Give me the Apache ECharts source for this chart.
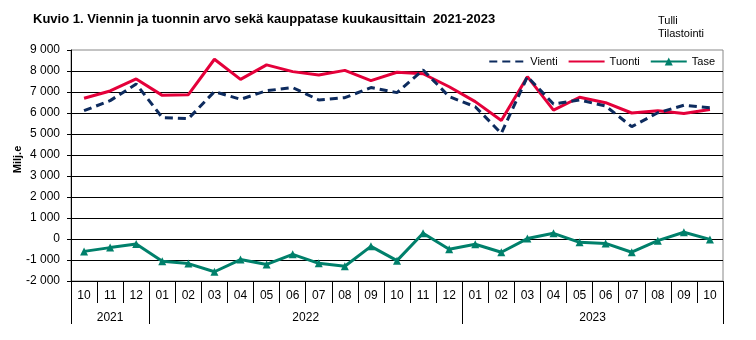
<!DOCTYPE html>
<html>
<head>
<meta charset="utf-8">
<script src="https://cdn.jsdelivr.net/npm/echarts@6/dist/echarts.min.js"></script>
<style>
html,body{margin:0;padding:0;background:#fff;}
#c{width:756px;height:340px;}
</style>
</head>
<body>
<div id="c"></div>
<script>
const months = ['10','11','12','01','02','03','04','05','06','07','08','09','10','11','12','01','02','03','04','05','06','07','08','09','10'];
const years = ['2021','2022','2023'];
const yearMonthCounts = [3, 12, 10];
const vienti = [6110,6590,7380,5780,5730,7020,6650,7060,7210,6620,6730,7210,6970,8050,6780,6300,5030,7730,6430,6620,6330,5350,6010,6370,6250];
const tuonti = [6700,7050,7620,6840,6870,8560,7600,8290,7970,7810,8030,7540,7940,7870,7250,6540,5640,7730,6140,6750,6490,6000,6110,5980,6170];
const tase = [-590,-410,-240,-1060,-1170,-1560,-980,-1210,-730,-1160,-1300,-350,-1030,270,-490,-250,-630,20,270,-160,-210,-630,-80,320,-20];

// Year axis: 2*N+1 points (half-month resolution), labels at year-span centers, ticks at year boundaries
const N = months.length;
const yearAxisData = new Array(2 * N + 1).fill('');
const yearBoundaries = new Set([0]);
let start = 0;
years.forEach((y, i) => {
  const end = start + yearMonthCounts[i];
  yearAxisData[start + end] = y;
  yearBoundaries.add(2 * end);
  start = end;
});

const font = '"Liberation Sans", Arial, sans-serif';
const chart = echarts.init(document.getElementById('c'), null, {renderer: 'canvas'});
chart.setOption({
  animation: false,
  backgroundColor: '#fff',
  textStyle: {fontFamily: font, color: '#000'},
  title: [
    {text: 'Kuvio 1. Viennin ja tuonnin arvo sekä kauppatase kuukausittain  2021-2023', left: 28, top: 8,
     textStyle: {fontFamily: font, fontSize: 13, fontWeight: 'bold', color: '#000'}},
    {text: 'Tulli\nTilastointi', left: 653, top: 9,
     textStyle: {fontFamily: font, fontSize: 11, fontWeight: 'normal', color: '#000', lineHeight: 13}}
  ],
  legend: {
    right: 36, top: 51, itemWidth: 36, itemHeight: 10, itemGap: 10,
    textStyle: {fontFamily: font, fontSize: 11, color: '#000'},
    data: [
      {name: 'Vienti', itemStyle: {opacity: 0}},
      {name: 'Tuonti', itemStyle: {opacity: 0}},
      {name: 'Tase'}
    ]
  },
  grid: {left: 71, right: 33, top: 50, bottom: 59, show: true, borderColor: '#888', borderWidth: 1,
         backgroundColor: 'transparent', outerBoundsMode: 'none', containLabel: false},
  xAxis: [
    {
      type: 'category', data: months, boundaryGap: true, position: 'bottom',
      axisLine: {show: true, onZero: false, lineStyle: {color: '#000', width: 1}},
      axisTick: {show: true, inside: false, length: 22, interval: 0, lineStyle: {color: '#000'}},
      axisLabel: {interval: 0, margin: 9, fontSize: 12, fontFamily: font, color: '#000'},
      splitLine: {show: false}
    },
    {
      type: 'category', data: yearAxisData, boundaryGap: false, position: 'bottom', offset: 0,
      axisLine: {show: false, onZero: false},
      axisTick: {show: true, inside: false, length: 43, interval: (idx) => yearBoundaries.has(idx), lineStyle: {color: '#000'}},
      axisLabel: {interval: (idx, v) => v !== '', margin: 31, fontSize: 12, fontFamily: font, color: '#000'},
      splitLine: {show: false}
    }
  ],
  yAxis: {
    type: 'value', min: -2000, max: 9000, interval: 1000,
    name: 'Milj.e', nameLocation: 'middle', nameGap: 48, nameRotate: 90, nameMoveOverlap: false,
    nameTextStyle: {fontFamily: font, fontSize: 11, fontWeight: 'bold', color: '#000', padding: [0, 0, 0, 12]},
    axisLine: {show: true, onZero: false, lineStyle: {color: '#000', width: 1}},
    axisTick: {show: true, length: 4, lineStyle: {color: '#000'}},
    axisLabel: {margin: 11, fontSize: 12, fontFamily: font, color: '#000',
      formatter: v => { const s = Math.abs(v).toString().replace(/\B(?=(\d{3})+(?!\d))/g, ' '); return (v < 0 ? '-' : '') + s; }},
    splitLine: {show: true, showMaxLine: false, lineStyle: {color: '#000', width: 1}}
  },
  series: [
    {name: 'Vienti', type: 'line', data: vienti, symbol: 'none', showSymbol: false,
     lineStyle: {color: '#0D2B5E', width: 3, type: [8, 5]}, itemStyle: {color: '#0D2B5E'}, z: 3},
    {name: 'Tuonti', type: 'line', data: tuonti, symbol: 'none', showSymbol: false,
     lineStyle: {color: '#E4003A', width: 3}, itemStyle: {color: '#E4003A'}, z: 2},
    {name: 'Tase', type: 'line', data: tase, symbol: 'triangle', symbolSize: 8, showSymbol: true,
     lineStyle: {color: '#00806B', width: 3}, itemStyle: {color: '#00806B'}, z: 4}
  ]
});
</script>
</body>
</html>
